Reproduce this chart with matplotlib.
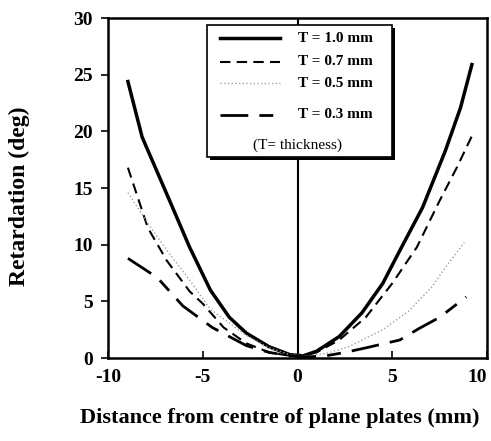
import matplotlib.pyplot as plt
from matplotlib.lines import Line2D
from matplotlib.patches import Rectangle

# distance from centre (mm) and retardation (deg)
x_10 = [-8.95, -8.2, -6.7, -5.7, -4.6, -3.6, -2.7, -1.5, -0.4, 0.3, 1.0, 2.2, 3.4, 4.5, 5.4, 6.6, 7.8, 8.6, 9.2]
y_10 = [24.4, 19.5, 13.7, 9.8, 6.0, 3.6, 2.2, 1.0, 0.3, 0.2, 0.6, 1.9, 4.0, 6.6, 9.5, 13.3, 18.3, 22.1, 25.9]

x_07 = [-8.95, -7.9, -6.9, -5.7, -5.0, -3.9, -2.7, -1.5, -0.4, 0.3, 1.0, 2.2, 3.6, 5.0, 6.3, 7.5, 8.4, 9.2]
y_07 = [16.8, 11.5, 8.6, 5.9, 4.8, 2.7, 1.3, 0.5, 0.2, 0.2, 0.5, 1.6, 3.6, 6.6, 9.8, 13.9, 16.8, 19.6]

x_05 = [-8.95, -7.9, -6.8, -5.7, -4.6, -2.7, -1.5, -0.4, 0.5, 1.5, 2.7, 4.5, 5.9, 7.1, 7.8, 8.8]
y_05 = [14.6, 11.9, 9.3, 6.9, 4.3, 2.0, 0.9, 0.3, 0.2, 0.4, 1.0, 2.5, 4.2, 6.3, 8.0, 10.2]

x_03 = [-8.95, -7.4, -6.05, -4.5, -2.7, -1.5, -0.4, 0.5, 1.5, 2.5, 3.6, 5.4, 6.4, 7.5, 8.9]
y_03 = [8.8, 7.1, 4.6, 2.7, 1.1, 0.5, 0.2, 0.1, 0.2, 0.5, 0.9, 1.6, 2.6, 3.6, 5.4]

labels = ["T = 1.0 mm", "T = 0.7 mm", "T = 0.5 mm", "T = 0.3 mm"]
xticks = [-10, -5, 0, 5, 10]
yticks = [0, 5, 10, 15, 20, 25, 30]

serif = "Liberation Serif"
plt.rcParams["axes.unicode_minus"] = False
fig = plt.figure(figsize=(4.91, 4.41), dpi=100)
ax = fig.add_axes([0.22, 0.188, 0.772, 0.771])

styles = [
    dict(color="black", lw=2.5, ls="-", solid_joinstyle="round"),
    dict(color="black", lw=1.5, dashes=(5, 3)),
    dict(color="#a0a0a0", lw=1.0, ls=":"),
    dict(color="black", lw=2.0, dashes=(10, 4, 5, 4)),
]
series = [(x_10, y_10), (x_07, y_07), (x_05, y_05), (x_03, y_03)]
for (xs, ys), st in zip(series, styles):
    ax.plot(xs, ys, **st)

ax.axvline(0, color="black", lw=1.5, zorder=1)

ax.set_xlim(-10, 10)
ax.set_ylim(0, 30)
ax.set_xticks(xticks)
ax.set_yticks(yticks)
for sp in ax.spines.values():
    sp.set_linewidth(1.8)
ax.tick_params(axis="x", direction="in", length=5, width=1.2, pad=8)
ax.tick_params(axis="y", direction="out", length=5, width=1.2, pad=6)
for lab in ax.get_xticklabels() + ax.get_yticklabels():
    lab.set_fontfamily(serif)
    lab.set_fontweight("bold")
    lab.set_fontsize(14)
ax.get_xticklabels()[-1].set_horizontalalignment("right")

# axis titles placed like the original
fig.text(280 / 491, 1 - 418 / 441, "Distance from centre of plane plates (mm)",
         fontfamily=serif, fontweight="bold", fontsize=16,
         ha="center", va="center")
fig.text(19 / 491, 1 - 196 / 441, "Retardation (deg)", rotation=90,
         fontfamily=serif, fontweight="bold", fontsize=17,
         ha="center", va="center")

# hand-made legend box with shadow
lx0, lx1, ly0, ly1 = 0.261, 0.749, 0.591, 0.979
ax.add_patch(Rectangle((lx0 + 0.008, ly0 - 0.009), lx1 - lx0, ly1 - ly0,
                       transform=ax.transAxes, facecolor="black",
                       edgecolor="none", zorder=4))
ax.add_patch(Rectangle((lx0, ly0), lx1 - lx0, ly1 - ly0, transform=ax.transAxes,
                       facecolor="white", edgecolor="black", lw=1.2, zorder=5))
rows = [0.941, 0.871, 0.809, 0.715]
for yy, st, lab in zip(rows, styles, labels):
    ax.add_line(Line2D([0.296, 0.454], [yy, yy], transform=ax.transAxes,
                       zorder=6, **st))
    ax.text(0.501, yy, lab, transform=ax.transAxes, fontfamily=serif,
            fontweight="bold", fontsize=11, va="center", ha="left", zorder=6)
ax.text(0.499, 0.626, "(T= thickness)", transform=ax.transAxes,
        fontfamily=serif, fontsize=11, va="center", ha="center", zorder=6)

fig.savefig("out.png", dpi=100)
